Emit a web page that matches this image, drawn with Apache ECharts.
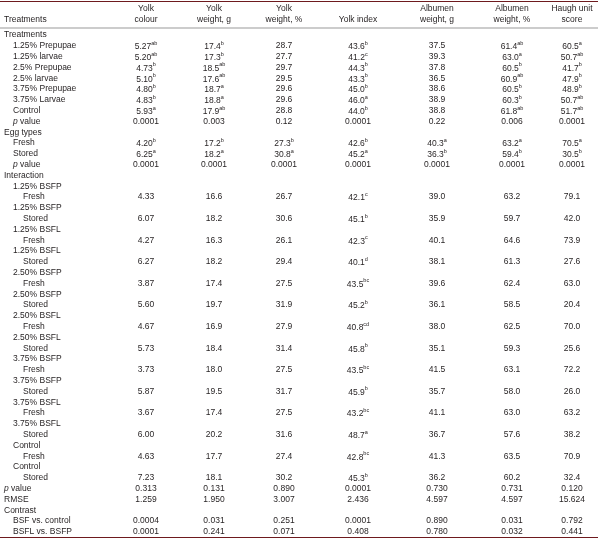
<!DOCTYPE html>
<html>
<head>
<meta charset="utf-8">
<script src="https://cdn.jsdelivr.net/npm/echarts@6/dist/echarts.min.js"></script>
<style>
html,body{margin:0;padding:0;background:#fff}
#main{width:598px;height:540px}
</style>
</head>
<body>
<div id="main"></div>
<script>
// column headers (two lines each)
var headTop = ['Yolk', 'Yolk', 'Yolk', '', 'Albumen', 'Albumen', 'Haugh unit'];
var headBottom = ['colour', 'weight, g', 'weight, %', 'Yolk index', 'weight, g', 'weight, %', 'score'];

// main effect: treatments
var treatLabels = ['1.25% Prepupae', '1.25% larvae', '2.5% Prepupae', '2.5% larvae', '3.75% Prepupae', '3.75% Larvae', 'Control'];
var treatValues = [
	['5.27^ab', '17.4^b', '28.7', '43.6^b', '37.5', '61.4^ab', '60.5^a'],
	['5.20^ab', '17.3^b', '27.7', '41.2^c', '39.3', '63.0^a', '50.7^ab'],
	['4.73^b', '18.5^ab', '29.7', '44.3^b', '37.8', '60.5^b', '41.7^b'],
	['5.10^b', '17.6^ab', '29.5', '43.3^b', '36.5', '60.9^ab', '47.9^b'],
	['4.80^b', '18.7^a', '29.6', '45.0^b', '38.6', '60.5^b', '48.9^b'],
	['4.83^b', '18.8^a', '29.6', '46.0^a', '38.9', '60.3^b', '50.7^ab'],
	['5.93^a', '17.9^ab', '28.8', '44.0^b', '38.8', '61.8^ab', '51.7^ab']
];
var treatP = ['0.0001', '0.003', '0.12', '0.0001', '0.22', '0.006', '0.0001'];

// main effect: egg types
var eggLabels = ['Fresh', 'Stored'];
var eggValues = [
	['4.20^b', '17.2^b', '27.3^b', '42.6^b', '40.3^a', '63.2^a', '70.5^a'],
	['6.25^a', '18.2^a', '30.8^a', '45.2^a', '36.3^b', '59.4^b', '30.5^b']
];
var eggP = ['0.0001', '0.0001', '0.0001', '0.0001', '0.0001', '0.0001', '0.0001'];

// interaction
var interGroups = ['1.25% BSFP', '1.25% BSFP', '1.25% BSFL', '1.25% BSFL', '2.50% BSFP', '2.50% BSFP', '2.50% BSFL', '2.50% BSFL',
	'3.75% BSFP', '3.75% BSFP', '3.75% BSFL', '3.75% BSFL', 'Control', 'Control'];
var interTypes = ['Fresh', 'Stored', 'Fresh', 'Stored', 'Fresh', 'Stored', 'Fresh', 'Stored', 'Fresh', 'Stored', 'Fresh', 'Stored', 'Fresh', 'Stored'];
var interValues = [
	['4.33', '16.6', '26.7', '42.1^c', '39.0', '63.2', '79.1'],
	['6.07', '18.2', '30.6', '45.1^b', '35.9', '59.7', '42.0'],
	['4.27', '16.3', '26.1', '42.3^c', '40.1', '64.6', '73.9'],
	['6.27', '18.2', '29.4', '40.1^d', '38.1', '61.3', '27.6'],
	['3.87', '17.4', '27.5', '43.5^bc', '39.6', '62.4', '63.0'],
	['5.60', '19.7', '31.9', '45.2^b', '36.1', '58.5', '20.4'],
	['4.67', '16.9', '27.9', '40.8^cd', '38.0', '62.5', '70.0'],
	['5.73', '18.4', '31.4', '45.8^b', '35.1', '59.3', '25.6'],
	['3.73', '18.0', '27.5', '43.5^bc', '41.5', '63.1', '72.2'],
	['5.87', '19.5', '31.7', '45.9^b', '35.7', '58.0', '26.0'],
	['3.67', '17.4', '27.5', '43.2^bc', '41.1', '63.0', '63.2'],
	['6.00', '20.2', '31.6', '48.7^a', '36.7', '57.6', '38.2'],
	['4.63', '17.7', '27.4', '42.8^bc', '41.3', '63.5', '70.9'],
	['7.23', '18.1', '30.2', '45.3^b', '36.2', '60.2', '32.4']
];
var interP = ['0.313', '0.131', '0.890', '0.0001', '0.730', '0.731', '0.120'];
var rmse = ['1.259', '1.950', '3.007', '2.436', '4.597', '4.597', '15.624'];

// contrasts
var contrastLabels = ['BSF vs. control', 'BSFL vs. BSFP'];
var contrastValues = [
	['0.0004', '0.031', '0.251', '0.0001', '0.890', '0.031', '0.792'],
	['0.0001', '0.241', '0.071', '0.408', '0.780', '0.032', '0.441']
];

// layout
var colX = [146, 214, 284, 358, 437, 512, 572];
var indentX = [4, 13, 23];
var rowTop = 35, rowStep = 10.8;

// build line list: [label, indent, values]
var lines = [];
lines.push(['Treatments', 0, null]);
treatLabels.forEach(function (l, i) { lines.push([l, 1, treatValues[i]]); });
lines.push(['{i|p} value', 1, treatP]);
lines.push(['Egg types', 0, null]);
eggLabels.forEach(function (l, i) { lines.push([l, 1, eggValues[i]]); });
lines.push(['{i|p} value', 1, eggP]);
lines.push(['Interaction', 0, null]);
interGroups.forEach(function (g, i) {
	lines.push([g, 1, null]);
	lines.push([interTypes[i], 2, interValues[i]]);
});
lines.push(['{i|p} value', 0, interP]);
lines.push(['RMSE', 0, rmse]);
lines.push(['Contrast', 0, null]);
contrastLabels.forEach(function (l, i) { lines.push([l, 1, contrastValues[i]]); });

function fmt(v) {
	var p = v.split('^');
	return p.length > 1 ? '{n|' + p[0] + '}{s|' + p[1] + '}' : p[0];
}

var cells = [];
lines.forEach(function (ln, k) {
	var y = rowTop + rowStep * k;
	cells.push([indentX[ln[1]], y, ln[0], 'left']);
	if (ln[2]) {
		ln[2].forEach(function (v, c) { cells.push([colX[c], y, fmt(v), 'center']); });
	}
});
// header
cells.push([indentX[0], 20, 'Treatments', 'left']);
headTop.forEach(function (t, c) {
	if (t) cells.push([colX[c], 9, t, 'center']);
	cells.push([colX[c], 20, headBottom[c], 'center']);
});

var rich = {
	n: { fontSize: 8.5, lineHeight: 11, verticalAlign: 'bottom' },
	s: { fontSize: 5.5, lineHeight: 6, verticalAlign: 'bottom', padding: [0, 0, 5, 0] },
	i: { fontStyle: 'italic', fontSize: 8.5 }
};

var myChart = echarts.init(document.getElementById('main'));

var option = {
	animation: false,
	grid: { left: 0, right: 0, top: 0, bottom: 0 },
	xAxis: { type: 'value', min: 0, max: 598, show: false },
	yAxis: { type: 'value', min: 0, max: 540, inverse: true, show: false },
	series: [{
		type: 'custom',
		data: cells,
		renderItem: function (params, api) {
			var d = cells[params.dataIndex];
			var pt = api.coord([d[0], d[1]]);
			return {
				type: 'text',
				x: pt[0],
				y: pt[1],
				style: {
					text: d[2],
					align: d[3],
					verticalAlign: 'middle',
					fill: '#231f20',
					fontSize: 8.5,
					fontFamily: 'Liberation Sans',
					rich: rich
				}
			};
		}
	}],
	graphic: [
		{ type: 'line', shape: { x1: 0, y1: 1.5, x2: 598, y2: 1.5 }, style: { stroke: '#6e1a1e', lineWidth: 1.2 } },
		{ type: 'line', shape: { x1: 0, y1: 28, x2: 598, y2: 28 }, style: { stroke: '#555', lineWidth: 0.6 } },
		{ type: 'line', shape: { x1: 0, y1: 537.5, x2: 598, y2: 537.5 }, style: { stroke: '#6e1a1e', lineWidth: 1.2 } }
	]
};

myChart.setOption(option);
</script>
</body>
</html>
